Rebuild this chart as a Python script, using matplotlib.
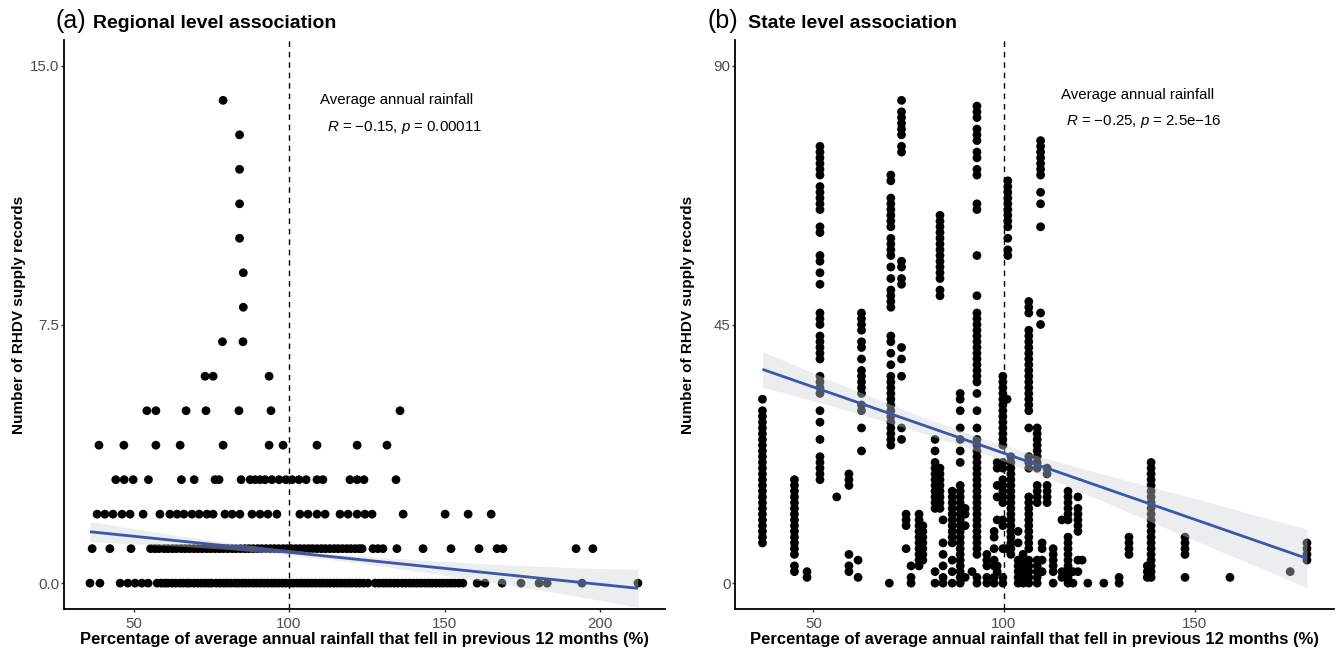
import numpy as np
import matplotlib
matplotlib.use("Agg")
import matplotlib.pyplot as plt

plt.rcParams['font.family'] = ['Liberation Sans', 'DejaVu Sans']
plt.rcParams['mathtext.fontset'] = 'custom'
plt.rcParams['mathtext.rm'] = 'Liberation Sans'
plt.rcParams['mathtext.it'] = 'Liberation Sans:italic'

# ---------------- Panel (a): regional level ----------------
# count levels (number of RHDV supply records) and rainfall % of each record
reg_levels = [0, 1, 2, 3, 4, 5, 6, 7, 8, 9, 10, 11, 12, 13, 14]
reg_x_by_level = [
    [36.0, 39.2, 45.7, 48.2, 50.5, 52.7, 54.7, 57.6, 58.9, 60.1, 61.0, 62.4, 63.5, 64.9, 66.0,
     67.2, 68.1, 69.5, 70.7, 71.8, 73.0, 74.2, 75.1, 76.6, 77.8, 79.0, 80.1, 81.3, 82.6, 83.7,
     84.9, 86.0, 87.2, 88.5, 89.6, 90.8, 92.0, 93.1, 94.4, 95.5, 96.7, 97.9, 99.0, 100.3, 101.4,
     102.6, 103.8, 105.0, 106.2, 107.3, 108.5, 109.8, 110.9, 112.1, 113.2, 114.5, 115.6, 116.8,
     118.0, 119.2, 120.3, 121.6, 122.7, 123.9, 125.4, 127.7, 129.0, 130.3, 131.4, 132.6, 133.9,
     135.0, 136.4, 137.5, 138.8, 140.0, 141.2, 142.4, 143.7, 144.9, 146.0, 147.3, 148.5, 149.6,
     150.9, 152.1, 153.3, 154.6, 155.9, 160.5, 163.0, 168.5, 174.6, 180.4, 183.0, 194.2, 212.2],
    [36.7, 42.4, 49.2, 55.5, 56.9, 58.2, 59.8, 61.1, 62.5, 63.8, 65.3, 66.6, 68.0, 69.4, 70.7,
     72.1, 73.5, 74.8, 76.2, 77.6, 78.9, 80.3, 81.7, 83.0, 84.4, 85.8, 87.1, 88.5, 89.9, 91.2,
     92.6, 94.0, 95.3, 96.7, 98.1, 99.4, 100.8, 102.2, 103.5, 104.9, 106.3, 107.6, 109.0, 110.4,
     111.7, 113.1, 114.5, 115.8, 117.2, 118.6, 119.9, 121.3, 122.6, 123.5, 127.0, 128.6, 130.2,
     134.7, 143.1, 152.1, 161.1, 166.9, 168.8, 192.3, 197.7],
    [38.3, 40.8, 43.4, 46.3, 48.9, 53.1, 58.5, 61.7, 64.0, 66.2, 68.8, 71.1, 73.6, 75.6, 79.4,
     81.7, 84.2, 88.1, 90.7, 93.2, 96.1, 103.5, 106.1, 109.0, 111.6, 116.4, 119.0, 121.9, 124.4,
     126.7, 136.7, 150.2, 157.6, 165.0],
    [44.3, 47.0, 49.9, 54.8, 65.4, 69.5, 76.2, 77.5, 84.6, 87.5, 89.1, 90.7, 92.3, 94.5, 96.8,
     99.0, 101.0, 103.2, 105.5, 109.0, 110.9, 119.6, 121.9, 124.1, 134.4],
    [38.9, 46.9, 57.2, 65.0, 78.8, 93.6, 98.1, 109.0, 121.9, 131.5],
    [54.3, 57.2, 66.9, 73.3, 83.9, 94.2, 135.7],
    [73.0, 75.6, 93.6],
    [78.6, 85.2],
    [85.3],
    [85.3],
    [84.1],
    [84.1],
    [84.1],
    [84.1],
    [78.8],
]
# fitted linear trend and 95% CI half-width
reg_fit_x = [36.0, 212.2]
reg_fit_y = [1.49, -0.15]
reg_ci_x = [36.0, 50, 65, 80, 95, 110, 125, 140, 160, 180, 200, 212.2]
reg_ci_hw = [0.29, 0.22, 0.15, 0.10, 0.08, 0.08, 0.11, 0.16, 0.24, 0.34, 0.46, 0.55]

# ---------------- Panel (b): state level ----------------
state_x = [36.6, 45.0, 48.3, 51.7, 56.1, 59.3, 61.7, 62.6, 69.9, 70.3, 73.1, 74.3, 75.6, 77.7,
           78.7, 81.9, 83.2, 84.0, 86.4, 88.5, 89.8, 91.6, 92.9, 95.5, 97.4, 98.2, 99.7, 100.8,
           101.0, 101.8, 103.7, 105.0, 106.5, 108.7, 109.6, 110.0, 111.3, 112.9, 115.2, 116.8,
           118.1, 119.4, 120.5, 122.0, 126.2, 130.2, 132.8, 137.6, 138.6, 147.5, 159.3, 175.1,
           179.5]
state_counts = [
    [7, 8, 9, 10, 11, 12, 13, 14, 15, 16, 17, 18, 19, 20, 21, 22, 23, 24, 25, 26, 27, 28, 29, 30, 32],
    [2, 3, 5, 6, 7, 8, 9, 10, 11, 12, 13, 14, 15, 16, 17, 18],
    [1, 2],
    [76, 75, 74, 73, 72, 71, 69, 68, 67, 66, 65, 62, 61, 57, 56, 54, 52, 47, 46, 45, 43, 42, 41,
     40, 39, 36, 35, 34, 33, 30, 28, 25, 22, 21, 20, 19, 18],
    [15],
    [19, 18, 17, 5, 3, 2],
    [4, 1],
    [47, 46, 45, 44, 42, 41, 39, 37, 36, 35, 34, 33, 31, 30, 27, 23],
    [0],
    [71, 70, 67, 66, 65, 64, 63, 62, 60, 59, 58, 57, 55, 53, 51, 50, 49, 48, 43, 42, 40, 38, 36,
     35, 34, 33, 32, 31, 30, 29, 28, 27, 26, 25, 24],
    [84, 82, 81, 80, 79, 78, 76, 75, 56, 55, 53, 52, 41, 39, 36, 27, 25],
    [12, 11, 10, 6],
    [3, 1, 0],
    [12, 11, 10, 9, 8, 7, 6, 5, 4, 3],
    [10, 9, 8, 7, 6, 5, 4],
    [25, 23, 21, 20, 19, 18, 17, 16, 15, 14, 13, 2, 0],
    [64, 63, 62, 61, 60, 59, 58, 57, 56, 55, 54, 53, 51, 50, 20, 19, 18, 17, 16, 15, 14, 13],
    [11, 7, 5, 3, 1, 0],
    [16, 15, 14, 13, 12, 11, 10, 9, 8, 7, 4, 2, 0],
    [33, 32, 30, 27, 25, 23, 21, 17, 16, 15, 14, 13, 12, 11, 10, 9, 8, 7, 6, 5, 4, 3, 2, 1, 0],
    [13, 12, 10, 1],
    [2],
    [83, 82, 81, 79, 78, 77, 75, 74, 72, 71, 66, 65, 57, 50, 47, 46, 45, 44, 43, 42, 41, 40, 39,
     38, 37, 36, 35, 33, 30, 27, 25, 24, 23, 22, 21, 20, 19, 18, 17, 16, 15, 14, 13, 12, 11, 10,
     9, 8, 7, 6, 5, 1, 0],
    [5, 4, 3, 1, 0],
    [9, 8, 6, 4, 3, 1, 0],
    [21, 20, 17, 15, 11, 3, 2],
    [36, 35, 34, 33, 32, 31, 30, 29, 28, 27, 26, 25, 24, 21, 20, 18, 17, 16, 15, 14, 11, 10, 6, 1, 0],
    [32, 6],
    [70, 69, 68, 67, 66, 65, 64, 63, 62, 60, 58, 57],
    [22, 21, 20, 19, 18, 17, 16, 15, 14, 13, 12, 11, 10, 9, 8, 7, 6, 5],
    [9, 7, 4, 3, 2, 1, 0],
    [5, 4, 3, 2, 1, 0],
    [49, 48, 47, 44, 43, 42, 41, 40, 39, 38, 37, 36, 35, 34, 33, 32, 31, 30, 27, 22, 21, 20, 15,
     14, 13, 12, 11, 10, 9, 8, 7, 6, 4, 3, 2, 1, 0],
    [27, 26, 25, 24, 23, 22, 21, 20, 17, 16, 15, 14, 4, 3, 2, 1, 0],
    [77, 76, 75, 74, 73, 72, 71, 68, 66, 62, 47, 45],
    [7, 6, 4, 2],
    [20, 19, 17, 16, 15, 14],
    [6, 5, 4, 3, 2, 0],
    [11, 2, 1],
    [16, 15, 14, 13, 12, 11, 8, 7, 6, 5, 4, 3, 2, 1, 0],
    [2, 0],
    [15, 13, 12, 11, 10, 9, 4, 2],
    [4],
    [0],
    [0],
    [1, 0],
    [8, 7, 6, 5],
    [3, 2, 1],
    [21, 20, 19, 18, 17, 16, 15, 14, 13, 12, 11, 10, 9, 8, 7, 6, 5, 4, 3, 2, 1],
    [8, 7, 6, 5, 1],
    [1],
    [2],
    [7, 6, 5, 4],
]
state_fit_x = [36.6, 179.5]
state_fit_y = [37.2, 4.3]
state_ci_x = [36.6, 50, 65, 80, 95, 110, 125, 140, 155, 170, 179.5]
state_ci_hw = [3.1, 2.4, 1.8, 1.4, 1.3, 1.6, 2.3, 3.1, 3.9, 4.6, 5.1]

xlabel = "Percentage of average annual rainfall that fell in previous 12 months (%)"
ylabel = "Number of RHDV supply records"

# ---------------- drawing ----------------
W, H = 1338, 652
fig = plt.figure(figsize=(W / 100, H / 100), dpi=100)


def box(l, r, t, b):
    return [l / W, 1 - b / H, (r - l) / W, (b - t) / H]


ax1 = fig.add_axes(box(64, 665, 40, 609))
ax2 = fig.add_axes(box(735, 1334, 40, 609))

LINE_C = '#3d56a8'
RIB_C = '#cfd2d8'


def draw(ax, px, py, fit_x, fit_y, ci_x, ci_hw):
    ax.axvline(100, color='black', lw=1.0, ls=(0, (4, 3.5)), zorder=1.5)
    ax.scatter(px, py, s=40, c='black', edgecolors='none', zorder=2)
    ci_x = np.asarray(ci_x)
    centre = np.interp(ci_x, fit_x, fit_y)
    hw = np.asarray(ci_hw)
    ax.fill_between(ci_x, centre - hw, centre + hw, color=RIB_C, alpha=0.4, lw=0, zorder=3)
    ax.plot(fit_x, fit_y, color=LINE_C, lw=2.0, zorder=4, solid_capstyle='butt')
    for s in ['top', 'right']:
        ax.spines[s].set_visible(False)
    for s in ['left', 'bottom']:
        ax.spines[s].set_linewidth(1.3)
        ax.spines[s].set_color('black')
    ax.tick_params(axis='both', labelsize=10.8, labelcolor='#4d4d4d', length=2.3, width=1,
                   color='#333333')
    ax.tick_params(axis='y', pad=1.0)
    ax.tick_params(axis='x', pad=3.6)
    ax.set_facecolor('white')


rx, ry = [], []
for lvl, xs in zip(reg_levels, reg_x_by_level):
    rx += xs
    ry += [lvl] * len(xs)
draw(ax1, rx, ry, reg_fit_x, reg_fit_y, reg_ci_x, reg_ci_hw)

sx, sy = [], []
for xv, cs in zip(state_x, state_counts):
    sx += [xv] * len(cs)
    sy += cs
draw(ax2, sx, sy, state_fit_x, state_fit_y, state_ci_x, state_ci_hw)

ax1.set_xlim(27.65, 220.9)
ax1.set_ylim(-0.75, 15.75)
ax1.set_xticks([50, 100, 150, 200])
ax1.set_yticks([0, 7.5, 15])
ax1.set_yticklabels(['0.0', '7.5', '15.0'])

ax2.set_xlim(29.4, 186.6)
ax2.set_ylim(-4.5, 94.5)
ax2.set_xticks([50, 100, 150])
ax2.set_yticks([0, 45, 90])

for ax, ylx in [(ax1, -0.0745), (ax2, -0.0785)]:
    ax.set_xlabel(xlabel, fontsize=12, fontweight='bold', color='black')
    ax.xaxis.set_label_coords(0.5, -0.054)
    ax.xaxis.label.set_va('center')
    ax.set_ylabel(ylabel, fontsize=11, fontweight='bold', color='black')
    ax.yaxis.set_label_coords(ylx, 0.517)
    ax.yaxis.label.set_va('center')

# annotations
ax1.text(110.0, 14.0, 'Average annual rainfall', fontsize=10.8, ha='left', va='center')
ax1.text(112.2, 13.2, '$R$ = \u22120.15, $p$ = 0.00011', fontsize=10.8, ha='left', va='center')
ax2.text(115.0, 85.0, 'Average annual rainfall', fontsize=10.8, ha='left', va='center')
ax2.text(116.3, 80.3, '$R$ = \u22120.25, $p$ = 2.5e\u221216', fontsize=10.8, ha='left', va='center')

# titles
fig.text(55 / W, 1 - 28 / H, '(a)', fontsize=18, va='baseline', ha='left')
fig.text(93 / W, 1 - 28 / H, 'Regional level association', fontsize=14, fontweight='bold',
         va='baseline', ha='left')
fig.text(707 / W, 1 - 28 / H, '(b)', fontsize=18, va='baseline', ha='left')
fig.text(748 / W, 1 - 28 / H, 'State level association', fontsize=14, fontweight='bold',
         va='baseline', ha='left')

fig.savefig('out.png', dpi=100, facecolor='white')
